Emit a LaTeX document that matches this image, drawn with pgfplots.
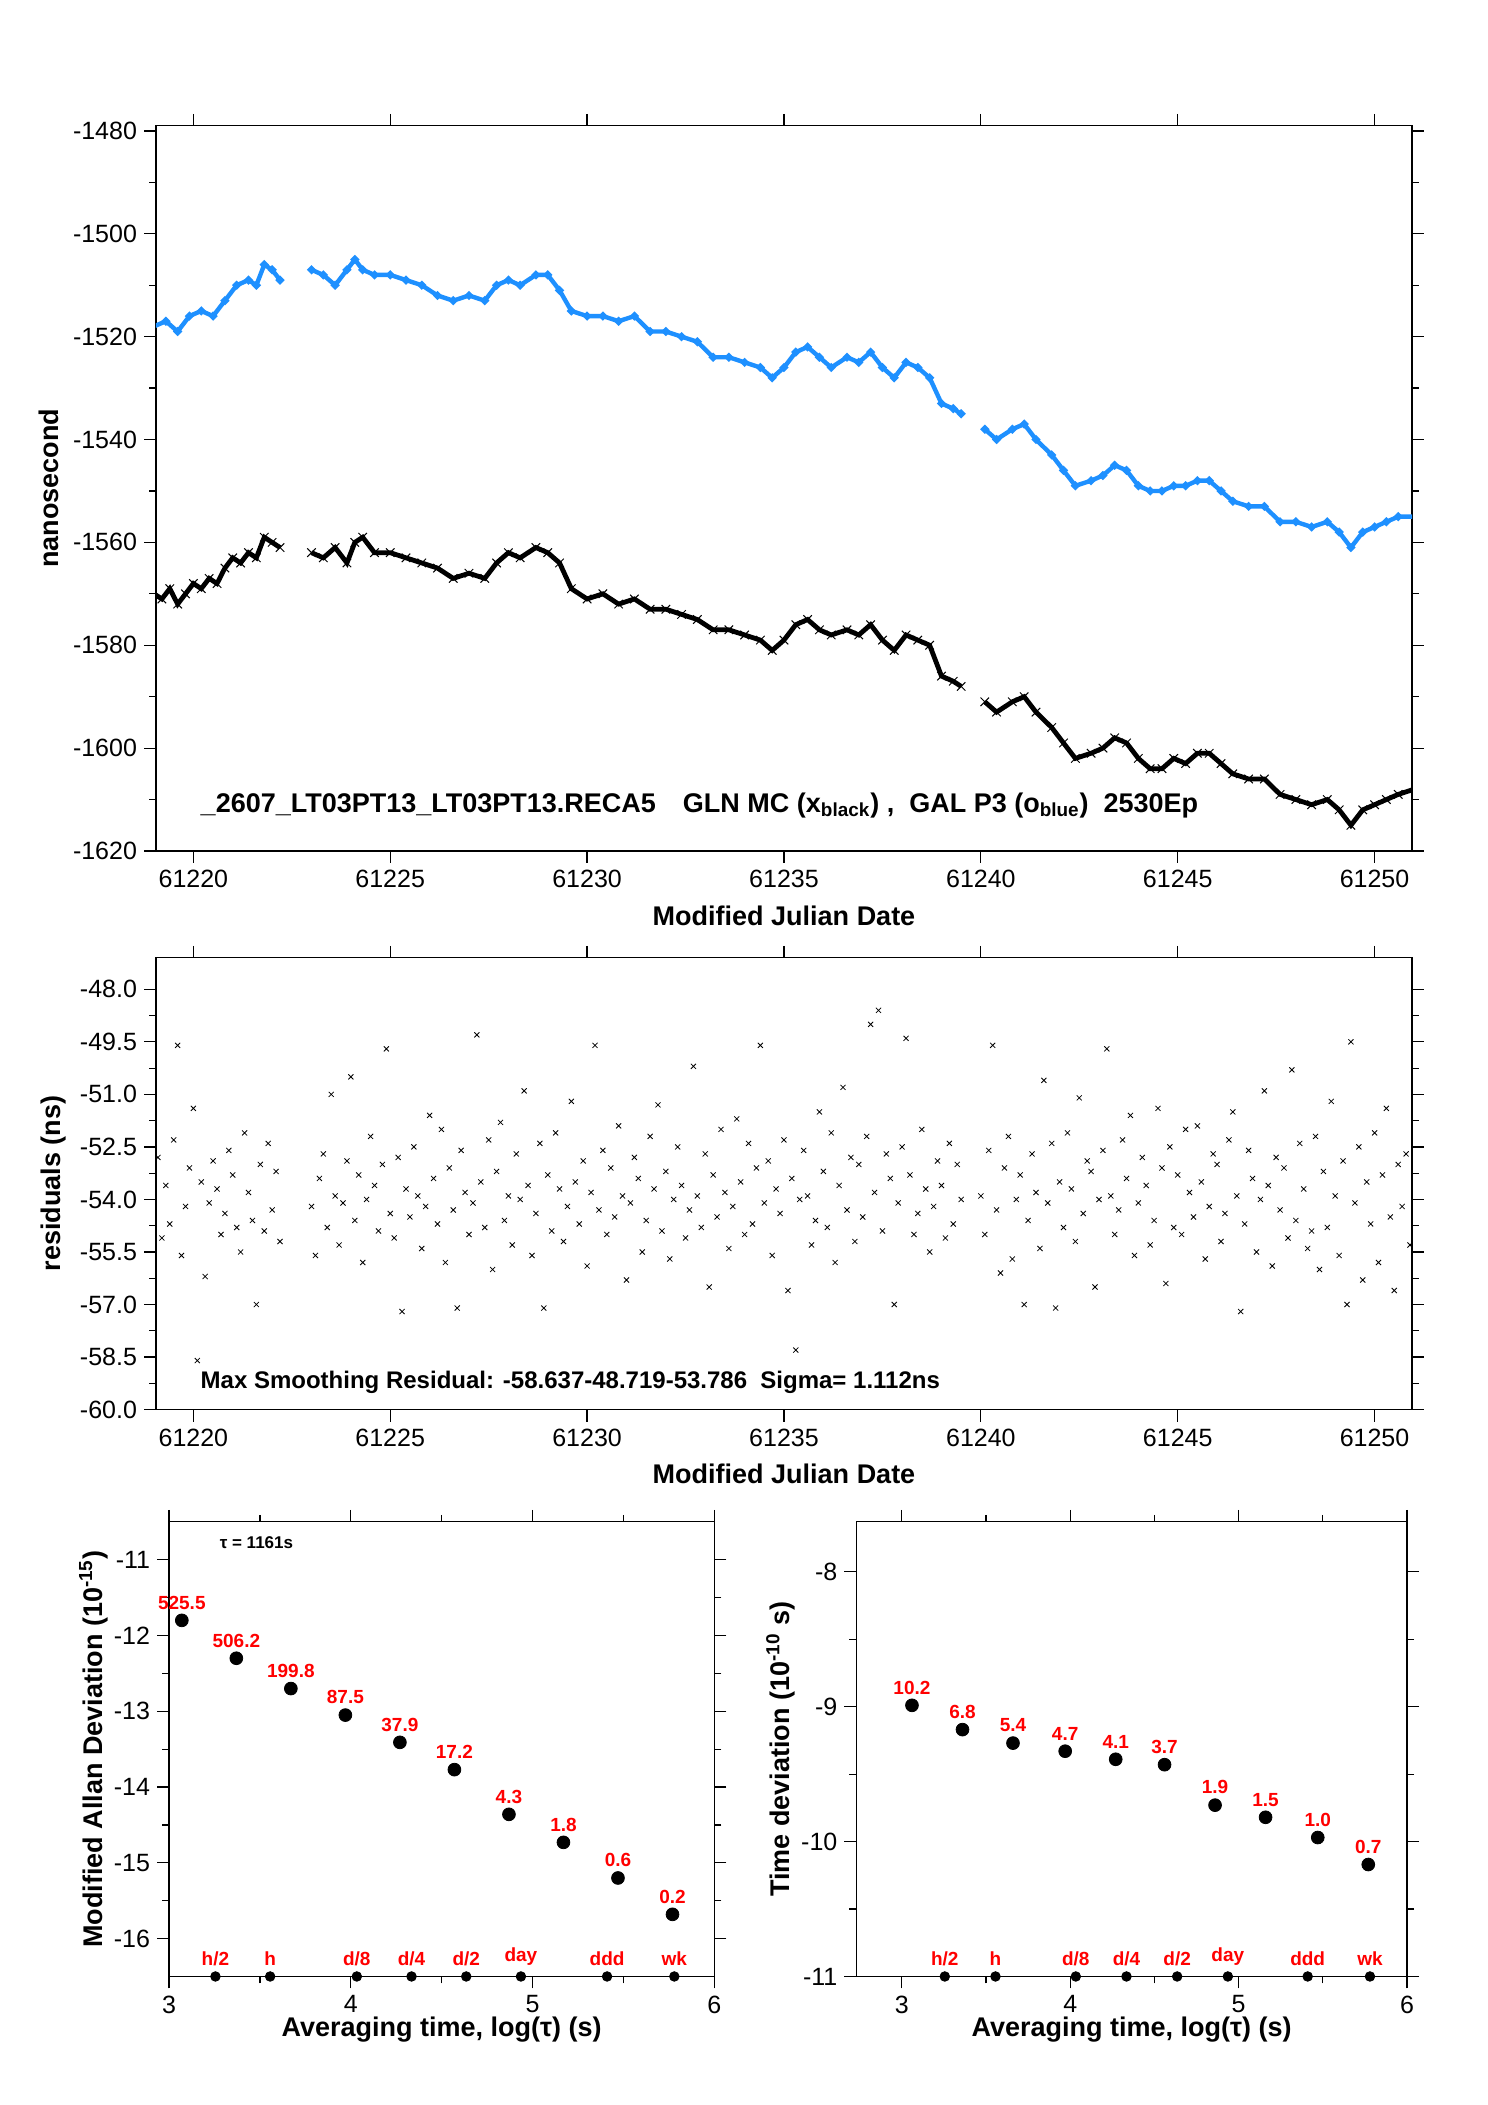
\documentclass[border=0pt]{standalone}
\usepackage{pgfplots}
\pgfplotsset{compat=1.18}
\usepackage{fontspec}
\setmainfont{Liberation Sans}
\definecolor{dblue}{RGB}{30,144,255}
\pgfplotsset{every axis/.append style={scale only axis, tick align=outside, axis line style={line width=0.6pt},
  tick style={black,line width=0.6pt}, major tick length=6pt, minor tick length=3.5pt,
  /pgf/number format/assume math mode=true, /pgf/number format/1000 sep={},
  tick label style={font=\fontsize{12.5}{14}\selectfont},
  label style={font=\bfseries\fontsize{13.5}{15}\selectfont}}}
\begin{document}
\begin{tikzpicture}
\fill[white] (0,0) rectangle (744pt,1052.5pt);
% top
\begin{axis}[at={(78pt,627pt)}, anchor=south west, width=628pt, height=362.6pt,
  xmin=61219.05, xmax=61250.95, ymin=-1620, ymax=-1479, scaled x ticks=false,
  xtick={61220,61225,...,61250}, minor x tick num=4, ytick={-1620,-1600,...,-1480},
  minor y tick num=1, xticklabel={\pgfmathprintnumber[fixed,precision=0]{\tick}},
  ylabel={nanosecond}, xlabel={Modified Julian Date}, xlabel style={yshift=-2pt}]
\addplot[dblue, line width=2.2pt, mark=*, mark size=0.8pt] table[x expr=\thisrowno{0}+61219,y index=1] {
0.0 -1518
0.3 -1517
0.6 -1519
0.9 -1516
1.2 -1515
1.5 -1516
1.8 -1513
2.1 -1510
2.4 -1509
2.6 -1510
2.8 -1506
3.0 -1507
3.2 -1509
};
\addplot[dblue, line width=2.2pt, mark=*, mark size=0.8pt] table[x expr=\thisrowno{0}+61219,y index=1] {
4.0 -1507
4.3 -1508
4.6 -1510
4.9 -1507
5.1 -1505
5.3 -1507
5.6 -1508
6.0 -1508
6.4 -1509
6.8 -1510
7.2 -1512
7.6 -1513
8.0 -1512
8.4 -1513
8.7 -1510
9.0 -1509
9.3 -1510
9.7 -1508
10.0 -1508
10.3 -1511
10.6 -1515
11.0 -1516
11.4 -1516
11.8 -1517
12.2 -1516
12.6 -1519
13.0 -1519
13.4 -1520
13.8 -1521
14.2 -1524
14.6 -1524
15.0 -1525
15.4 -1526
15.7 -1528
16.0 -1526
16.3 -1523
16.6 -1522
16.9 -1524
17.2 -1526
17.6 -1524
17.9 -1525
18.2 -1523
18.5 -1526
18.8 -1528
19.1 -1525
19.4 -1526
19.7 -1528
20.0 -1533
20.3 -1534
20.5 -1535
};
\addplot[dblue, line width=2.2pt, mark=*, mark size=0.8pt] table[x expr=\thisrowno{0}+61219,y index=1] {
21.1 -1538
21.4 -1540
21.8 -1538
22.1 -1537
22.4 -1540
22.8 -1543
23.1 -1546
23.4 -1549
23.8 -1548
24.1 -1547
24.4 -1545
24.7 -1546
25.0 -1549
25.3 -1550
25.6 -1550
25.9 -1549
26.2 -1549
26.5 -1548
26.8 -1548
27.1 -1550
27.4 -1552
27.8 -1553
28.2 -1553
28.6 -1556
29.0 -1556
29.4 -1557
29.8 -1556
30.1 -1558
30.4 -1561
30.7 -1558
31.0 -1557
31.3 -1556
31.6 -1555
32.0 -1555
};
\addplot[black, line width=2.4pt, mark=x, mark size=3pt, mark options={line width=0.5pt}] table[x expr=\thisrowno{0}+61219,y index=1] {
0.0 -1570
0.2 -1571
0.4 -1569
0.6 -1572
0.8 -1570
1.0 -1568
1.2 -1569
1.4 -1567
1.6 -1568
1.8 -1565
2.0 -1563
2.2 -1564
2.4 -1562
2.6 -1563
2.8 -1559
3.0 -1560
3.2 -1561
};
\addplot[black, line width=2.4pt, mark=x, mark size=3pt, mark options={line width=0.5pt}] table[x expr=\thisrowno{0}+61219,y index=1] {
4.0 -1562
4.3 -1563
4.6 -1561
4.9 -1564
5.1 -1560
5.3 -1559
5.6 -1562
6.0 -1562
6.4 -1563
6.8 -1564
7.2 -1565
7.6 -1567
8.0 -1566
8.4 -1567
8.7 -1564
9.0 -1562
9.3 -1563
9.7 -1561
10.0 -1562
10.3 -1564
10.6 -1569
11.0 -1571
11.4 -1570
11.8 -1572
12.2 -1571
12.6 -1573
13.0 -1573
13.4 -1574
13.8 -1575
14.2 -1577
14.6 -1577
15.0 -1578
15.4 -1579
15.7 -1581
16.0 -1579
16.3 -1576
16.6 -1575
16.9 -1577
17.2 -1578
17.6 -1577
17.9 -1578
18.2 -1576
18.5 -1579
18.8 -1581
19.1 -1578
19.4 -1579
19.7 -1580
20.0 -1586
20.3 -1587
20.5 -1588
};
\addplot[black, line width=2.4pt, mark=x, mark size=3pt, mark options={line width=0.5pt}] table[x expr=\thisrowno{0}+61219,y index=1] {
21.1 -1591
21.4 -1593
21.8 -1591
22.1 -1590
22.4 -1593
22.8 -1596
23.1 -1599
23.4 -1602
23.8 -1601
24.1 -1600
24.4 -1598
24.7 -1599
25.0 -1602
25.3 -1604
25.6 -1604
25.9 -1602
26.2 -1603
26.5 -1601
26.8 -1601
27.1 -1603
27.4 -1605
27.8 -1606
28.2 -1606
28.6 -1609
29.0 -1610
29.4 -1611
29.8 -1610
30.1 -1612
30.4 -1615
30.7 -1612
31.0 -1611
31.3 -1610
31.6 -1609
32.0 -1608
};
\node[anchor=west, font=\bfseries\fontsize{13.5}{15}\selectfont] at (rel axis cs:0.03,0.063)
 {\_2607\_LT03PT13\_LT03PT13.RECA5\quad GLN MC (x\textsubscript{black}) ,\ \ GAL P3 (o\textsubscript{blue})\ \ 2530Ep};
\end{axis}
% middle
\begin{axis}[at={(78pt,347.7pt)}, anchor=south west, width=628pt, height=225.9pt,
  xmin=61219.05, xmax=61250.95, ymin=-60, ymax=-47.1, scaled x ticks=false,
  xtick={61220,61225,...,61250}, minor x tick num=4, ytick={-60,-58.5,...,-48},
  minor y tick num=1, xticklabel={\pgfmathprintnumber[fixed,precision=0]{\tick}},
  yticklabel={\pgfmathprintnumber[fixed,fixed zerofill,precision=1]{\tick}},
  ylabel={residuals (ns)}, xlabel={Modified Julian Date}, xlabel style={yshift=-2pt}]
\addplot[only marks, mark=x, mark size=1.8pt, mark options={line width=0.4pt}] table[x expr=\thisrowno{0}+61219,y index=1] {
0.0 -54.0
0.1 -52.8
0.2 -55.1
0.3 -53.6
0.4 -54.7
0.5 -52.3
0.6 -49.6
0.7 -55.6
0.8 -54.2
0.9 -53.1
1.0 -51.4
1.1 -58.6
1.2 -53.5
1.3 -56.2
1.4 -54.1
1.5 -52.9
1.6 -53.7
1.7 -55.0
1.8 -54.4
1.9 -52.6
2.0 -53.3
2.1 -54.8
2.2 -55.5
2.3 -52.1
2.4 -53.8
2.5 -54.6
2.6 -57.0
2.7 -53.0
2.8 -54.9
2.9 -52.4
3.0 -54.3
3.1 -53.2
3.2 -55.2
4.0 -54.2
4.1 -55.6
4.2 -53.4
4.3 -52.7
4.4 -54.8
4.5 -51.0
4.6 -53.9
4.7 -55.3
4.8 -54.1
4.9 -52.9
5.0 -50.5
5.1 -54.6
5.2 -53.3
5.3 -55.8
5.4 -54.0
5.5 -52.2
5.6 -53.6
5.7 -54.9
5.8 -53.0
5.9 -49.7
6.0 -54.4
6.1 -55.1
6.2 -52.8
6.3 -57.2
6.4 -53.7
6.5 -54.5
6.6 -52.5
6.7 -53.9
6.8 -55.4
6.9 -54.2
7.0 -51.6
7.1 -53.4
7.2 -54.7
7.3 -52.0
7.4 -55.8
7.5 -53.1
7.6 -54.3
7.7 -57.1
7.8 -52.6
7.9 -53.8
8.0 -55.0
8.1 -54.1
8.2 -49.3
8.3 -53.5
8.4 -54.8
8.5 -52.3
8.6 -56.0
8.7 -53.2
8.8 -51.8
8.9 -54.6
9.0 -53.9
9.1 -55.3
9.2 -52.7
9.3 -54.0
9.4 -50.9
9.5 -53.6
9.6 -55.6
9.7 -54.4
9.8 -52.4
9.9 -57.1
10.0 -53.3
10.1 -54.9
10.2 -52.1
10.3 -53.7
10.4 -55.2
10.5 -54.2
10.6 -51.2
10.7 -53.5
10.8 -54.7
10.9 -52.9
11.0 -55.9
11.1 -53.8
11.2 -49.6
11.3 -54.3
11.4 -52.6
11.5 -55.0
11.6 -53.1
11.7 -54.5
11.8 -51.9
11.9 -53.9
12.0 -56.3
12.1 -54.1
12.2 -52.8
12.3 -53.4
12.4 -55.5
12.5 -54.6
12.6 -52.2
12.7 -53.7
12.8 -51.3
12.9 -54.9
13.0 -53.2
13.1 -55.7
13.2 -54.0
13.3 -52.5
13.4 -53.6
13.5 -55.1
13.6 -54.3
13.7 -50.2
13.8 -53.9
13.9 -54.8
14.0 -52.7
14.1 -56.5
14.2 -53.3
14.3 -54.5
14.4 -52.0
14.5 -53.8
14.6 -55.4
14.7 -54.2
14.8 -51.7
14.9 -53.5
15.0 -55.0
15.1 -52.4
15.2 -54.7
15.3 -53.1
15.4 -49.6
15.5 -54.1
15.6 -52.9
15.7 -55.6
15.8 -53.7
15.9 -54.4
16.0 -52.3
16.1 -56.6
16.2 -53.4
16.3 -58.3
16.4 -54.0
16.5 -52.6
16.6 -53.9
16.7 -55.3
16.8 -54.6
16.9 -51.5
17.0 -53.2
17.1 -54.8
17.2 -52.1
17.3 -55.8
17.4 -53.6
17.5 -50.8
17.6 -54.3
17.7 -52.8
17.8 -55.2
17.9 -53.0
18.0 -54.5
18.1 -52.2
18.2 -49.0
18.3 -53.8
18.4 -48.6
18.5 -54.9
18.6 -52.7
18.7 -53.4
18.8 -57.0
18.9 -54.1
19.0 -52.5
19.1 -49.4
19.2 -53.3
19.3 -55.0
19.4 -54.4
19.5 -52.0
19.6 -53.7
19.7 -55.5
19.8 -54.2
19.9 -52.9
20.0 -53.6
20.1 -55.1
20.2 -52.4
20.3 -54.7
20.4 -53.0
20.5 -54.0
21.0 -53.9
21.1 -55.0
21.2 -52.6
21.3 -49.6
21.4 -54.3
21.5 -56.1
21.6 -53.1
21.7 -52.2
21.8 -55.7
21.9 -54.0
22.0 -53.3
22.1 -57.0
22.2 -54.6
22.3 -52.7
22.4 -53.8
22.5 -55.4
22.6 -50.6
22.7 -54.1
22.8 -52.4
22.9 -57.1
23.0 -53.5
23.1 -54.8
23.2 -52.1
23.3 -53.7
23.4 -55.2
23.5 -51.1
23.6 -54.4
23.7 -52.9
23.8 -53.2
23.9 -56.5
24.0 -54.0
24.1 -52.6
24.2 -49.7
24.3 -53.9
24.4 -55.0
24.5 -54.3
24.6 -52.3
24.7 -53.4
24.8 -51.6
24.9 -55.6
25.0 -54.1
25.1 -52.8
25.2 -53.6
25.3 -55.3
25.4 -54.6
25.5 -51.4
25.6 -53.1
25.7 -56.4
25.8 -52.5
25.9 -54.8
26.0 -53.3
26.1 -55.0
26.2 -52.0
26.3 -53.8
26.4 -54.5
26.5 -51.9
26.6 -53.5
26.7 -55.7
26.8 -54.2
26.9 -52.7
27.0 -53.0
27.1 -55.2
27.2 -54.4
27.3 -52.3
27.4 -51.5
27.5 -53.9
27.6 -57.2
27.7 -54.7
27.8 -52.6
27.9 -53.4
28.0 -55.5
28.1 -54.0
28.2 -50.9
28.3 -53.6
28.4 -55.9
28.5 -52.8
28.6 -54.3
28.7 -53.1
28.8 -55.1
28.9 -50.3
29.0 -54.6
29.1 -52.4
29.2 -53.7
29.3 -55.4
29.4 -54.9
29.5 -52.2
29.6 -56.0
29.7 -53.2
29.8 -54.8
29.9 -51.2
30.0 -53.9
30.1 -55.6
30.2 -52.9
30.3 -57.0
30.4 -49.5
30.5 -54.1
30.6 -52.5
30.7 -56.3
30.8 -53.5
30.9 -54.7
31.0 -52.1
31.1 -55.8
31.2 -53.3
31.3 -51.4
31.4 -54.5
31.5 -56.6
31.6 -53.0
31.7 -54.2
31.8 -52.7
31.9 -55.3
32.0 -53.8
};
\node[anchor=west, font=\bfseries\fontsize{12}{14}\selectfont] at (rel axis cs:0.03,0.06)
 {Max Smoothing Residual: -58.637-48.719-53.786\ \ Sigma= 1.112ns};
\end{axis}
% bottom left
\begin{axis}[at={(84.55pt,64.26pt)}, anchor=south west, width=272.6pt, height=227.3pt,
  xmin=3, xmax=6, ymin=-16.5, ymax=-10.5, xtick={3,4,5,6}, minor x tick num=1,
  ytick={-16,-15,...,-11}, minor y tick num=1,
  xlabel={Averaging time, log(τ) (s)}, ylabel={Modified Allan Deviation (10\textsuperscript{-15})},
  xlabel style={yshift=5pt}, ylabel style={yshift=-4pt}, clip=true,
  nodes near coords, point meta=explicit symbolic,
  every node near coord/.append style={red, font=\bfseries\fontsize{9.5}{10}\selectfont, yshift=2pt}]
\addplot[only marks, mark=*, mark size=3.2pt] table[meta=l] {
x y l
3.07 -11.80 525.5
3.37 -12.30 506.2
3.67 -12.70 199.8
3.97 -13.05 87.5
4.27 -13.41 37.9
4.57 -13.77 17.2
4.87 -14.36 4.3
5.17 -14.73 1.8
5.47 -15.20 0.6
5.77 -15.68 0.2
};
\addplot[only marks, mark=*, mark size=2.4pt] table[meta=l] {
x y l
3.255 -16.5 h/2
3.556 -16.5 h
4.033 -16.5 d/8
4.334 -16.5 d/4
4.635 -16.5 d/2
4.936 -16.5 day
5.41 -16.5 ddd
5.78 -16.5 wk
};
\node[anchor=west, font=\bfseries\fontsize{8.5}{10}\selectfont] at (rel axis cs:0.08,0.955) {τ = 1161s};
\end{axis}
% bottom right
\begin{axis}[at={(428.2pt,64.26pt)}, anchor=south west, width=275.3pt, height=227.3pt,
  xmin=2.73, xmax=6, ymin=-11, ymax=-7.63, xtick={3,4,5,6}, minor x tick num=1,
  ytick={-11,-10,-9,-8}, minor y tick num=1,
  xlabel={Averaging time, log(τ) (s)}, ylabel={Time deviation (10\textsuperscript{-10} s)},
  xlabel style={yshift=5pt}, ylabel style={yshift=-4pt},
  nodes near coords, point meta=explicit symbolic,
  every node near coord/.append style={red, font=\bfseries\fontsize{9.5}{10}\selectfont, yshift=2pt}]
\addplot[only marks, mark=*, mark size=3.2pt] table[meta=l] {
x y l
3.06 -8.99 10.2
3.36 -9.17 6.8
3.66 -9.27 5.4
3.97 -9.33 4.7
4.27 -9.39 4.1
4.56 -9.43 3.7
4.86 -9.73 1.9
5.16 -9.82 1.5
5.47 -9.97 1.0
5.77 -10.17 0.7
};
\addplot[only marks, mark=*, mark size=2.4pt] table[meta=l] {
x y l
3.255 -11 h/2
3.556 -11 h
4.033 -11 d/8
4.334 -11 d/4
4.635 -11 d/2
4.936 -11 day
5.41 -11 ddd
5.78 -11 wk
};
\end{axis}
\end{tikzpicture}
\end{document}
